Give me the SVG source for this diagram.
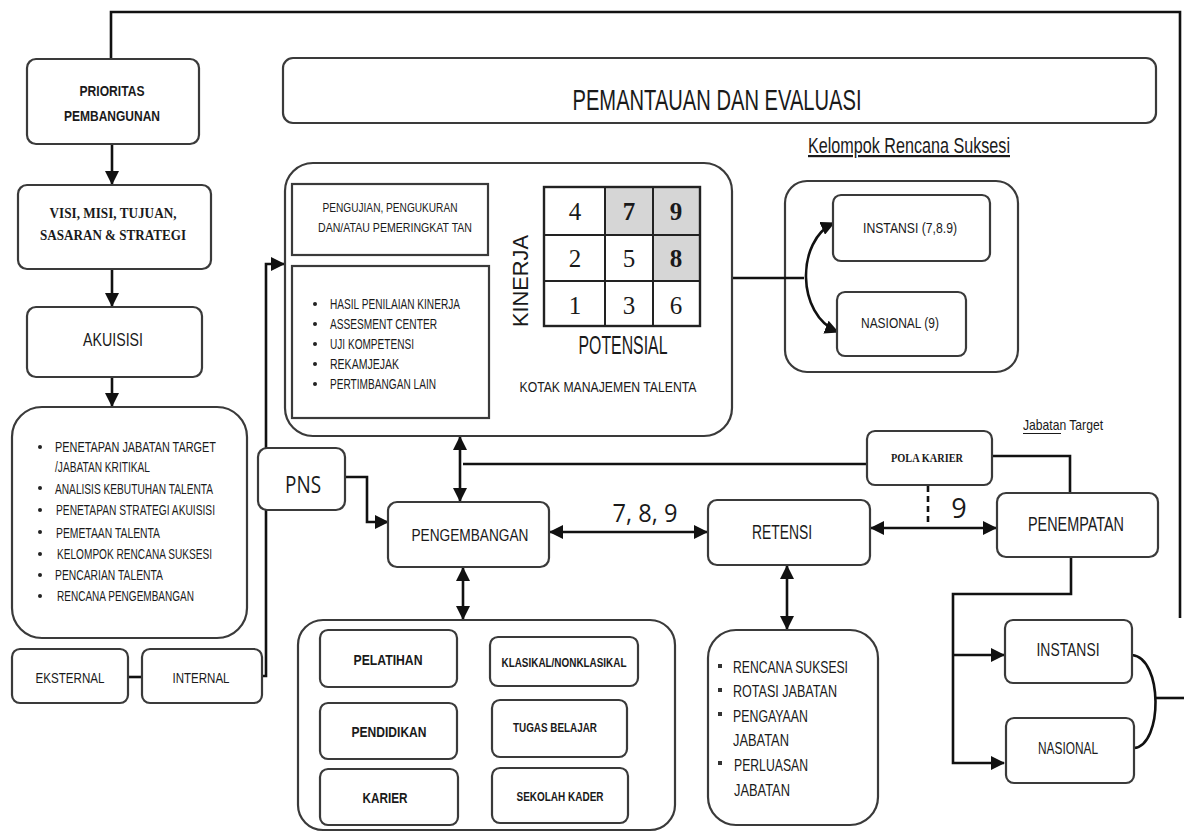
<svg xmlns="http://www.w3.org/2000/svg" width="1184" height="836" viewBox="0 0 1184 836">
<defs>
<style>
.bx{fill:#fff;stroke:#3a3a3a;stroke-width:2.2}
.ln{fill:none;stroke:#111;stroke-width:2.6}
.t{font-family:"Liberation Sans",Arial,sans-serif;fill:#1a1a1a}
.tb{font-family:"Liberation Sans",Arial,sans-serif;font-weight:bold;fill:#1a1a1a}
.sf{font-family:"Liberation Serif","Times New Roman",serif;font-weight:bold;fill:#1a1a1a}
.num{font-family:"Liberation Serif","Times New Roman",serif;font-size:25px;fill:#1a1a1a;text-anchor:middle}
.op{font-family:"Open Sans","Liberation Sans",sans-serif;fill:#1a1a1a}
.m{text-anchor:middle}
</style>
<marker id="ah" markerWidth="14" markerHeight="14" refX="13" refY="7" orient="auto-start-reverse" markerUnits="userSpaceOnUse">
<path d="M0,0 L14,7 L0,14 z" fill="#111"/>
</marker>
</defs>
<rect width="1184" height="836" fill="#fff"/>

<g id="kelompok">
<text class="t m" x="909" y="153" font-size="22" textLength="202" lengthAdjust="spacingAndGlyphs" text-decoration="underline">Kelompok Rencana Suksesi</text>
<rect class="bx" x="785" y="181" width="233" height="191" rx="22"/>
</g>

<g id="connectors">
<path class="ln" d="M111,58 V12 H1180 V618" stroke-width="3"/>
<path class="ln" d="M1156,698 H1184" stroke-width="3.5"/>
<path class="ln" d="M112,144 V184" marker-end="url(#ah)"/>
<path class="ln" d="M112,269 V306" marker-end="url(#ah)"/>
<path class="ln" d="M112,377 V406" marker-end="url(#ah)"/>
<path class="ln" d="M128,677 H142"/>
<path class="ln" d="M262,676 H266 V264 H284" marker-end="url(#ah)"/>
<path class="ln" d="M345,477 H367 V522 H388" marker-end="url(#ah)"/>
<path class="ln" d="M460,437 V501" marker-start="url(#ah)" marker-end="url(#ah)"/>
<path class="ln" d="M463,464 H867"/>
<path class="ln" d="M550,532 H707" marker-start="url(#ah)" marker-end="url(#ah)"/>
<path class="ln" d="M463,568 V619" marker-start="url(#ah)" marker-end="url(#ah)"/>
<path class="ln" d="M871,528 H996" marker-start="url(#ah)" marker-end="url(#ah)"/>
<path class="ln" d="M992,456 H1070 V493"/>
<path class="ln" d="M928,486 V526" stroke-width="1.6" stroke-dasharray="6,4"/>
<path class="ln" d="M787,566 V629" marker-start="url(#ah)" marker-end="url(#ah)"/>
<path class="ln" d="M1071,557 V594 H953 V763 H1004" marker-end="url(#ah)"/>
<path class="ln" d="M953,655 H1004" marker-end="url(#ah)"/>
<path class="ln" d="M1132,655 C1163,658 1163,745 1134,748"/>
<path class="ln" d="M732,278 H804" stroke-width="2"/>
<path class="ln" d="M834,223 C796,240 796,315 838,332" stroke-width="2" marker-start="url(#ah)" marker-end="url(#ah)"/>
</g>

<g id="prioritas">
<rect class="bx" x="27" y="59" width="172" height="85" rx="9"/>
<text class="tb m" x="112" y="96" font-size="14" textLength="65" lengthAdjust="spacingAndGlyphs">PRIORITAS</text>
<text class="tb m" x="112" y="121" font-size="14" textLength="96" lengthAdjust="spacingAndGlyphs">PEMBANGUNAN</text>
</g>

<g id="visi">
<rect class="bx" x="18" y="185" width="193" height="84" rx="9"/>
<text class="sf m" x="113" y="218" font-size="14" textLength="127" lengthAdjust="spacingAndGlyphs">VISI, MISI, TUJUAN,</text>
<text class="sf m" x="113" y="240" font-size="14" textLength="146" lengthAdjust="spacingAndGlyphs">SASARAN &amp; STRATEGI</text>
</g>

<g id="akuisisi">
<rect class="bx" x="27" y="307" width="175" height="70" rx="9"/>
<text class="t m" x="113" y="346" font-size="19" textLength="60" lengthAdjust="spacingAndGlyphs">AKUISISI</text>
</g>

<g id="akuisisi-list">
<rect class="bx" x="12" y="407" width="235" height="231" rx="30"/>
<g fill="#222">
<circle cx="40" cy="447" r="2"/><circle cx="40" cy="488" r="2"/><circle cx="40" cy="510" r="2"/>
<circle cx="40" cy="532" r="2"/><circle cx="40" cy="554" r="2"/><circle cx="40" cy="575" r="2"/><circle cx="40" cy="596" r="2"/>
</g>
<g class="t" font-size="14">
<text x="55" y="452" textLength="161" lengthAdjust="spacingAndGlyphs">PENETAPAN  JABATAN  TARGET</text>
<text x="55" y="472" textLength="95" lengthAdjust="spacingAndGlyphs">/JABATAN KRITIKAL</text>
<text x="55" y="494" textLength="158" lengthAdjust="spacingAndGlyphs">ANALISIS KEBUTUHAN TALENTA</text>
<text x="56" y="515" textLength="159" lengthAdjust="spacingAndGlyphs">PENETAPAN STRATEGI AKUISISI</text>
<text x="56" y="538" textLength="104" lengthAdjust="spacingAndGlyphs">PEMETAAN TALENTA</text>
<text x="57" y="559" textLength="155" lengthAdjust="spacingAndGlyphs">KELOMPOK RENCANA SUKSESI</text>
<text x="55" y="580" textLength="108" lengthAdjust="spacingAndGlyphs">PENCARIAN TALENTA</text>
<text x="57" y="601" textLength="137" lengthAdjust="spacingAndGlyphs">RENCANA PENGEMBANGAN</text>
</g>
</g>

<g id="eksternal">
<rect class="bx" x="12" y="649" width="116" height="54" rx="8"/>
<text class="t m" x="70" y="683" font-size="15" textLength="69" lengthAdjust="spacingAndGlyphs">EKSTERNAL</text>
</g>
<g id="internal">
<rect class="bx" x="142" y="649" width="120" height="54" rx="8"/>
<text class="t m" x="201" y="683" font-size="15" textLength="57" lengthAdjust="spacingAndGlyphs">INTERNAL</text>
</g>

<g id="pemantauan">
<rect class="bx" x="283" y="58" width="873" height="65" rx="10"/>
<text class="t m" x="717" y="110" font-size="29" textLength="289" lengthAdjust="spacingAndGlyphs">PEMANTAUAN DAN EVALUASI</text>
</g>

<g id="talenta">
<rect class="bx" x="285" y="163" width="447" height="273" rx="28"/>
<rect class="bx" x="292" y="184" width="196" height="71" rx="0" stroke-width="3"/>
<text class="t m" x="390" y="212" font-size="13.5" textLength="135" lengthAdjust="spacingAndGlyphs">PENGUJIAN, PENGUKURAN</text>
<text class="t m" x="395" y="232" font-size="13.5" textLength="154" lengthAdjust="spacingAndGlyphs">DAN/ATAU PEMERINGKAT  TAN</text>
<rect class="bx" x="292" y="266" width="197" height="152" rx="0" stroke-width="3"/>
<g fill="#222">
<circle cx="315" cy="304" r="2"/><circle cx="315" cy="324" r="2"/><circle cx="315" cy="344" r="2"/><circle cx="315" cy="364" r="2"/><circle cx="315" cy="384" r="2"/>
</g>
<g class="t" font-size="14">
<text x="330" y="309" textLength="130" lengthAdjust="spacingAndGlyphs">HASIL PENILAIAN KINERJA</text>
<text x="330" y="329" textLength="107" lengthAdjust="spacingAndGlyphs">ASSESMENT CENTER</text>
<text x="330" y="349" textLength="84" lengthAdjust="spacingAndGlyphs">UJI KOMPETENSI</text>
<text x="330" y="369" textLength="69" lengthAdjust="spacingAndGlyphs">REKAMJEJAK</text>
<text x="330" y="389" textLength="106" lengthAdjust="spacingAndGlyphs">PERTIMBANGAN LAIN</text>
</g>
<g id="grid">
<rect x="605" y="187" width="48" height="48" fill="#d6d6d6"/>
<rect x="653" y="187" width="47" height="48" fill="#d6d6d6"/>
<rect x="653" y="235" width="47" height="46" fill="#d6d6d6"/>
<rect x="544" y="187" width="156" height="139" fill="none" stroke="#222" stroke-width="2.4"/>
<path d="M605,187 V326 M653,187 V326 M544,235 H700 M544,281 H700" stroke="#222" stroke-width="2" fill="none"/>
<text class="num" x="575" y="220">4</text>
<text class="num" x="629" y="220" font-weight="bold">7</text>
<text class="num" x="676" y="220" font-weight="bold">9</text>
<text class="num" x="575" y="267">2</text>
<text class="num" x="629" y="267">5</text>
<text class="num" x="676" y="267" font-weight="bold">8</text>
<text class="num" x="575" y="314">1</text>
<text class="num" x="629" y="314">3</text>
<text class="num" x="676" y="314">6</text>
</g>
<text class="t m" transform="translate(528,281) rotate(-90)" font-size="22" textLength="92" lengthAdjust="spacingAndGlyphs">KINERJA</text>
<text class="t m" x="623" y="354" font-size="25" textLength="89" lengthAdjust="spacingAndGlyphs">POTENSIAL</text>
<text class="t m" x="608" y="392" font-size="15" textLength="177" lengthAdjust="spacingAndGlyphs">KOTAK MANAJEMEN TALENTA</text>
</g>

<g id="instansi-789">
<rect class="bx" x="833" y="195" width="157" height="66" rx="8"/>
<text class="t m" x="910" y="233" font-size="15" textLength="94" lengthAdjust="spacingAndGlyphs">INSTANSI (7,8.9)</text>
</g>
<g id="nasional-9">
<rect class="bx" x="837" y="292" width="129" height="64" rx="8"/>
<text class="t m" x="900" y="328" font-size="15" textLength="78" lengthAdjust="spacingAndGlyphs">NASIONAL (9)</text>
</g>

<g id="jabatan-target">
<text class="t" x="1023" y="430" font-size="15" textLength="80" lengthAdjust="spacingAndGlyphs">Jabatan Target</text>
<path d="M1023,433.5 H1061" stroke="#1a1a1a" stroke-width="1.2" fill="none"/>
</g>

<g id="pola-karier">
<rect class="bx" x="867" y="431" width="125" height="54" rx="8"/>
<text class="sf m" x="927" y="462" font-size="12" textLength="72" lengthAdjust="spacingAndGlyphs">POLA KARIER</text>
</g>

<g id="pns">
<rect class="bx" x="258" y="448" width="87" height="62" rx="9"/>
<text class="op m" x="303" y="493" font-size="23" textLength="36" lengthAdjust="spacingAndGlyphs">PNS</text>
</g>

<g id="pengembangan">
<rect class="bx" x="388" y="502" width="161" height="65" rx="9"/>
<text class="t m" x="470" y="541" font-size="17" textLength="117" lengthAdjust="spacingAndGlyphs">PENGEMBANGAN</text>
</g>

<text class="op m" x="645" y="522" font-size="26" textLength="65" lengthAdjust="spacingAndGlyphs">7, 8, 9</text>
<text class="op m" x="959" y="518" font-size="27">9</text>

<g id="retensi">
<rect class="bx" x="708" y="500" width="162" height="65" rx="9"/>
<text class="t m" x="782" y="539" font-size="20" textLength="60" lengthAdjust="spacingAndGlyphs">RETENSI</text>
</g>

<g id="penempatan">
<rect class="bx" x="997" y="493" width="161" height="64" rx="9"/>
<text class="t m" x="1076" y="531" font-size="20" textLength="96" lengthAdjust="spacingAndGlyphs">PENEMPATAN</text>
</g>

<g id="instansi">
<rect class="bx" x="1005" y="620" width="127" height="63" rx="8"/>
<text class="t m" x="1068" y="656" font-size="19" textLength="63" lengthAdjust="spacingAndGlyphs">INSTANSI</text>
</g>
<g id="nasional">
<rect class="bx" x="1006" y="718" width="128" height="65" rx="8"/>
<text class="t m" x="1068" y="754" font-size="16" textLength="60" lengthAdjust="spacingAndGlyphs">NASIONAL</text>
</g>

<g id="retensi-list">
<rect class="bx" x="708" y="630" width="170" height="195" rx="28"/>
<g fill="#333">
<rect x="718" y="664" width="4" height="4"/><rect x="718" y="688" width="4" height="4"/>
<rect x="718" y="712" width="4" height="4"/><rect x="718" y="761" width="4" height="4"/>
</g>
<g class="t" font-size="17">
<text x="733" y="673" textLength="115" lengthAdjust="spacingAndGlyphs">RENCANA SUKSESI</text>
<text x="733" y="697" textLength="104" lengthAdjust="spacingAndGlyphs">ROTASI JABATAN</text>
<text x="733" y="722" textLength="75" lengthAdjust="spacingAndGlyphs">PENGAYAAN</text>
<text x="733" y="746" textLength="56" lengthAdjust="spacingAndGlyphs">JABATAN</text>
<text x="734" y="771" textLength="74" lengthAdjust="spacingAndGlyphs">PERLUASAN</text>
<text x="734" y="796" textLength="56" lengthAdjust="spacingAndGlyphs">JABATAN</text>
</g>
</g>

<g id="pengembangan-list">
<rect class="bx" x="298" y="620" width="377" height="210" rx="25"/>
</g>
<g id="pelatihan">
<rect class="bx" x="320" y="630" width="137" height="57" rx="8"/>
<text class="tb m" x="388" y="665" font-size="15" textLength="69" lengthAdjust="spacingAndGlyphs">PELATIHAN</text>
</g>
<g id="klasikal">
<rect class="bx" x="490" y="637" width="148" height="49" rx="8"/>
<text class="tb m" x="564" y="667" font-size="12.5" textLength="125" lengthAdjust="spacingAndGlyphs">KLASIKAL/NONKLASIKAL</text>
</g>
<g id="pendidikan">
<rect class="bx" x="320" y="703" width="137" height="56" rx="8"/>
<text class="tb m" x="389" y="737" font-size="15" textLength="75" lengthAdjust="spacingAndGlyphs">PENDIDIKAN</text>
</g>
<g id="tugas-belajar">
<rect class="bx" x="492" y="700" width="135" height="57" rx="8"/>
<text class="tb m" x="555" y="732" font-size="12.5" textLength="84" lengthAdjust="spacingAndGlyphs">TUGAS BELAJAR</text>
</g>
<g id="karier">
<rect class="bx" x="320" y="769" width="138" height="56" rx="8"/>
<text class="tb m" x="385" y="803" font-size="15" textLength="45" lengthAdjust="spacingAndGlyphs">KARIER</text>
</g>
<g id="sekolah-kader">
<rect class="bx" x="492" y="768" width="136" height="55" rx="8"/>
<text class="tb m" x="560" y="801" font-size="12.5" textLength="87" lengthAdjust="spacingAndGlyphs">SEKOLAH KADER</text>
</g>
</svg>
